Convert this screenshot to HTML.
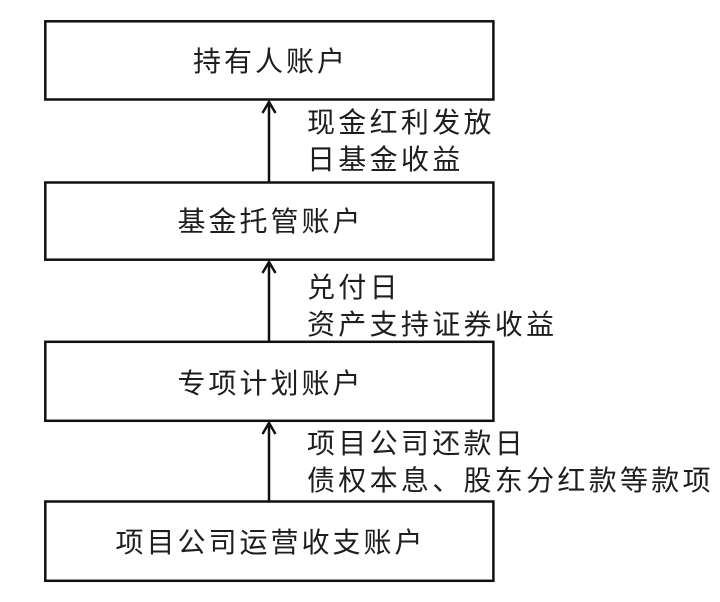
<!DOCTYPE html>
<html>
<head>
<meta charset="utf-8">
<style>
  html, body { margin:0; padding:0; background:#fff; }
  body { width:720px; height:602px; position:relative; overflow:hidden;
         font-family:"Liberation Sans","Noto Sans CJK SC",sans-serif; color:#1e1e1e; }
  svg { position:absolute; left:0; top:0; }
  .bt { position:absolute; left:46px; width:446px; text-align:center;
        font-size:28px; letter-spacing:3px; line-height:40px; height:40px; padding-left:3px; box-sizing:border-box; white-space:nowrap; }
  .lb { position:absolute; left:307px; font-size:28px; letter-spacing:3.3px; line-height:36.5px; white-space:nowrap; }
</style>
</head>
<body>
<svg width="720" height="602" viewBox="0 0 720 602">
  <g fill="none" stroke="#111" stroke-width="2.5">
    <rect x="45.3" y="21.3" width="448.1" height="78.2"/>
    <rect x="45.3" y="182.5" width="448.1" height="77.2"/>
    <rect x="45.3" y="341.8" width="448.1" height="79"/>
    <rect x="45.3" y="501.5" width="448.1" height="79.3"/>
    <line x1="269" y1="181.5" x2="269" y2="102"/>
    <polyline points="262.5,113 269,102 275.5,113"/>
    <line x1="269" y1="341" x2="269" y2="262"/>
    <polyline points="262.5,273 269,262 275.5,273"/>
    <line x1="269" y1="500.5" x2="269" y2="423"/>
    <polyline points="262.5,434 269,423 275.5,434"/>
  </g>
</svg>

<div class="bt" style="top:42px;">持有人账户</div>
<div class="bt" style="top:202px;">基金托管账户</div>
<div class="bt" style="top:363.5px;">专项计划账户</div>
<div class="bt" style="top:523px;">项目公司运营收支账户</div>

<div class="lb" style="top:105px;">现金红利发放<br>日基金收益</div>
<div class="lb" style="top:270px;">兑付日<br>资产支持证券收益</div>
<div class="lb" style="top:426px;">项目公司还款日<br>债权本息、股东分红款等款项</div>
</body>
</html>
